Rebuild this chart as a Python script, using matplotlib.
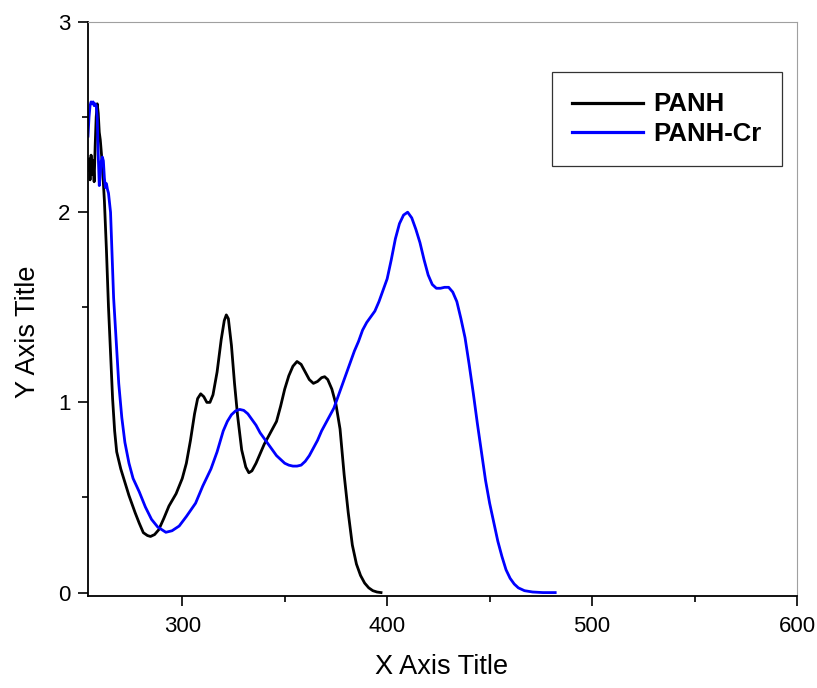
import numpy as np
import matplotlib
matplotlib.use("Agg")
import matplotlib.pyplot as plt
from matplotlib.ticker import MultipleLocator

plt.rcParams['font.family'] = ['Liberation Sans', 'DejaVu Sans']

# PANH
panh_x = [254.0, 254.5, 255.0, 255.5, 256.0, 256.5, 257.0, 257.5, 258.0, 258.5,
          259.0, 259.5, 260.0, 261.0, 262.0, 263.0, 264.0, 265.0, 266.0, 267.0,
          268.0, 270.0, 272.0, 274.0, 277.0, 279.0, 281.0, 283.0, 284.5, 286.5,
          288.5, 291.0, 293.5, 297.0, 300.0, 302.0, 304.0, 306.0, 307.5, 309.0,
          310.5, 312.0, 313.5, 315.0, 317.0, 319.0, 320.5, 321.5, 322.5, 324.0,
          325.5, 327.0, 329.0, 331.0, 332.5, 334.0, 336.0, 338.0, 340.0, 342.0,
          344.0, 346.0, 348.0, 350.0, 352.0, 354.0, 356.0, 358.0, 360.0, 362.0,
          364.0, 366.0, 368.0, 369.5, 371.0, 373.0, 375.0, 377.0, 379.0, 381.0,
          383.0, 385.0, 387.0, 389.0, 391.0, 393.0, 395.0, 397.0]
panh_y = [2.22, 2.28, 2.17, 2.30, 2.20, 2.27, 2.16, 2.35, 2.50, 2.57,
          2.52, 2.42, 2.38, 2.25, 2.06, 1.80, 1.50, 1.26, 1.02, 0.85,
          0.74, 0.65, 0.58, 0.51, 0.42, 0.365, 0.315, 0.30, 0.295, 0.305,
          0.33, 0.39, 0.455, 0.52, 0.60, 0.68, 0.80, 0.94, 1.02, 1.045,
          1.03, 1.00, 1.00, 1.04, 1.16, 1.33, 1.43, 1.46, 1.44, 1.30,
          1.10, 0.93, 0.75, 0.66, 0.63, 0.64, 0.68, 0.73, 0.78, 0.82,
          0.86, 0.90, 0.98, 1.07, 1.14, 1.19, 1.215, 1.20, 1.16, 1.12,
          1.10, 1.11, 1.13, 1.135, 1.12, 1.07, 0.99, 0.86, 0.62, 0.42,
          0.25, 0.15, 0.09, 0.05, 0.025, 0.01, 0.003, 0.0]

# PANH-Cr
cr_x = [254.0, 254.5, 255.0, 255.5, 256.0, 256.5, 257.0, 257.5, 258.0, 258.5,
        259.0, 259.5, 260.0, 260.5, 261.0, 261.5, 262.0, 262.5, 263.0, 263.5,
        264.0, 265.0, 265.5, 266.5, 268.0, 269.0, 270.5, 272.0, 274.0, 276.0,
        279.0, 282.0, 285.0, 288.0, 292.0, 295.0, 298.5, 302.0, 306.5, 310.0,
        314.0, 317.0, 320.0, 322.0, 324.0, 326.0, 328.0, 330.0, 332.0, 334.0,
        336.0, 338.0, 340.0, 342.0, 344.0, 346.0, 348.0, 350.0, 352.0, 354.0,
        356.0, 358.0, 360.0, 362.0, 364.0, 366.0, 368.0, 370.0, 372.0, 374.0,
        376.0, 378.0, 380.0, 382.0, 384.0, 386.0, 388.0, 390.0, 392.0, 394.0,
        396.0, 398.0, 400.0, 402.0, 404.0, 406.0, 408.0, 410.0, 412.0, 414.0,
        416.0, 418.0, 420.0, 422.0, 424.0, 426.0, 428.0, 430.0, 432.0, 434.0,
        436.0, 438.0, 440.0, 442.0, 444.0, 446.0, 448.0, 450.0, 452.0, 454.0,
        456.0, 458.0, 460.0, 462.0, 464.0, 467.0, 471.0, 476.0, 482.0]
cr_y = [2.40, 2.50, 2.56, 2.58, 2.57, 2.58, 2.56, 2.57, 2.56, 2.50,
        2.30, 2.14, 2.20, 2.27, 2.29, 2.27, 2.18, 2.13, 2.15, 2.12,
        2.10, 2.00, 1.85, 1.55, 1.28, 1.10, 0.92, 0.79, 0.68, 0.60,
        0.53, 0.45, 0.385, 0.345, 0.317, 0.325, 0.35, 0.40, 0.47, 0.56,
        0.65, 0.74, 0.85, 0.90, 0.935, 0.955, 0.963, 0.958, 0.94, 0.91,
        0.88, 0.84, 0.81, 0.78, 0.75, 0.72, 0.70, 0.68, 0.67, 0.665,
        0.665, 0.67, 0.69, 0.72, 0.76, 0.80, 0.85, 0.89, 0.93, 0.97,
        1.03, 1.09, 1.15, 1.21, 1.27, 1.32, 1.38, 1.42, 1.45, 1.48,
        1.53, 1.59, 1.65, 1.75, 1.86, 1.94, 1.985, 2.0, 1.97, 1.91,
        1.84, 1.75, 1.67, 1.62, 1.60, 1.60, 1.605, 1.605, 1.58, 1.53,
        1.44, 1.34, 1.20, 1.05, 0.89, 0.74, 0.59, 0.47, 0.37, 0.27,
        0.19, 0.12, 0.075, 0.045, 0.025, 0.01, 0.003, 0.0, 0.0]

fig = plt.figure(figsize=(8.17, 6.88), dpi=100)
ax = fig.add_axes([88/817, 1 - 596/688, (797 - 88)/817, (596 - 22)/688])

ax.plot(panh_x, panh_y, color='black', lw=2.0, label='PANH')
ax.plot(cr_x, cr_y, color='#0000ff', lw=2.0, label='PANH-Cr')

ax.set_xlim(254, 600)
ax.set_ylim(-0.018, 3)
ax.xaxis.set_major_locator(MultipleLocator(100))
ax.xaxis.set_minor_locator(MultipleLocator(50))
ax.yaxis.set_major_locator(MultipleLocator(1))
ax.yaxis.set_minor_locator(MultipleLocator(0.5))
ax.tick_params(which='both', direction='out', top=False, right=False,
               labelsize=16, width=1.2, color='black')
ax.tick_params(axis='x', which='major', length=7.5, pad=7)
ax.tick_params(axis='y', which='major', length=7.5, pad=5)
ax.tick_params(which='minor', length=4)

for s in ['left', 'bottom']:
    ax.spines[s].set_linewidth(1.3)
    ax.spines[s].set_color('black')
for s in ['top', 'right']:
    ax.spines[s].set_linewidth(0.8)
    ax.spines[s].set_color('#a0a0a0')

fig.text(441.5/817, 1 - 667/688, 'X Axis Title', fontsize=19.5, ha='center', va='center')
fig.text(28/817, 1 - 332/688, 'Y Axis Title', fontsize=19.5, ha='center', va='center',
         rotation=90)

leg = ax.legend(loc='upper right', bbox_to_anchor=(0.979, 0.913),
                prop={'weight': 'bold', 'size': 18.5}, frameon=True, fancybox=False,
                edgecolor='black', handlelength=2.75, handletextpad=0.4,
                borderpad=0.8, labelspacing=0.2, borderaxespad=0)
leg.get_frame().set_linewidth(0.9)
for line in leg.get_lines():
    line.set_linewidth(2.3)

fig.savefig('out.png', dpi=100)
